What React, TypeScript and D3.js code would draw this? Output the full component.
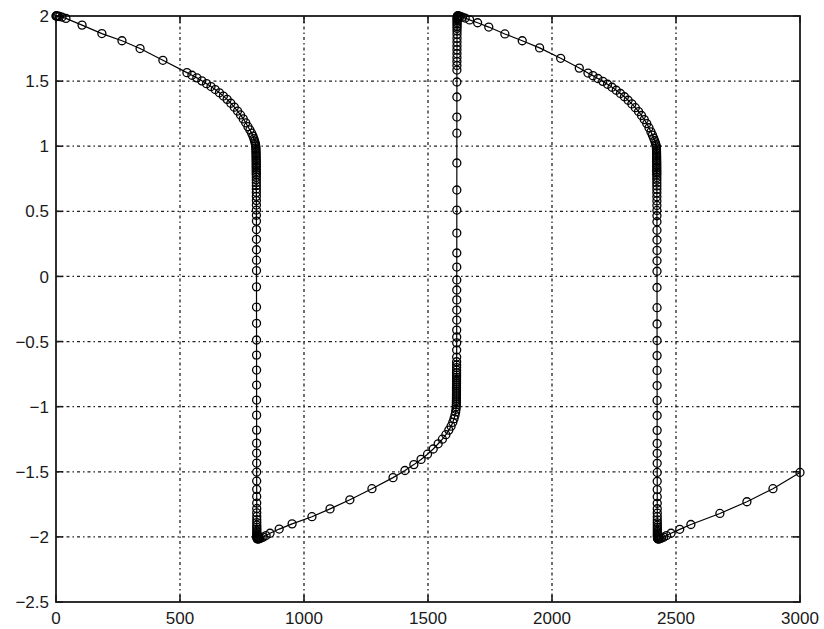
import { useEffect } from 'react'
import * as d3 from 'd3'

// values, [t, y]
const slowDescent1 = [
  [0, 2.0], [1.5, 2.0], [4, 1.999], [8, 1.998], [14, 1.996], [24, 1.992], [40, 1.982],
  [105, 1.93], [185, 1.865], [266, 1.81], [339, 1.75], [431, 1.66], [528, 1.565],
  [548, 1.545], [568, 1.525], [588, 1.502], [607, 1.48], [625, 1.458], [642, 1.435],
  [659, 1.41], [675, 1.385], [690, 1.36], [705, 1.33], [719, 1.3], [732, 1.27],
  [744, 1.24], [755, 1.21], [765, 1.18], [774, 1.15], [782, 1.125], [789, 1.1],
  [794, 1.078], [798, 1.058], [801, 1.04], [803, 1.025], [804.5, 1.012], [805.5, 1.0],
]

const fastDrop1 = [
  [806, 0.988], [806.3, 0.975], [806.5, 0.962], [806.7, 0.949], [806.8, 0.936],
  [806.9, 0.923], [807, 0.91], [807.1, 0.897], [807.2, 0.884], [807.25, 0.871],
  [807.3, 0.858], [807.35, 0.845], [807.4, 0.832], [807.45, 0.819], [807.5, 0.806],
  [807.55, 0.793], [807.6, 0.78], [807.65, 0.762], [807.7, 0.742], [807.75, 0.72],
  [807.8, 0.697], [807.85, 0.672], [807.9, 0.645], [807.95, 0.615], [808, 0.583],
  [808.05, 0.548], [808.1, 0.51], [808.15, 0.47], [808.2, 0.425], [808.25, 0.36],
  [808.3, 0.285], [808.35, 0.205], [808.4, 0.125], [808.45, 0.045], [808.5, -0.08],
  [808.55, -0.235], [808.6, -0.36], [808.65, -0.488], [808.7, -0.604], [808.75, -0.719],
  [808.8, -0.834], [808.85, -0.949], [808.9, -1.065], [808.95, -1.18], [809, -1.28],
  [809.05, -1.356], [809.1, -1.433], [809.15, -1.502], [809.2, -1.571], [809.25, -1.635],
  [809.3, -1.69], [809.35, -1.74], [809.4, -1.782], [809.45, -1.815], [809.5, -1.843],
  [809.55, -1.868], [809.6, -1.89], [809.65, -1.91], [809.7, -1.927], [809.75, -1.942],
  [809.8, -1.956], [809.85, -1.968], [809.9, -1.978], [809.95, -1.987], [810, -1.995],
  [810.2, -2.002], [810.5, -2.008], [811, -2.012], [812, -2.015],
]

const slowRise1 = [
  [814, -2.016], [817, -2.015], [821, -2.013], [827, -2.009], [835, -2.002],
  [847, -1.99], [863, -1.972], [900, -1.94], [952, -1.9], [1032, -1.845],
  [1105, -1.785], [1185, -1.715], [1274, -1.63], [1359, -1.545], [1407, -1.49],
  [1443, -1.445], [1472, -1.405], [1498, -1.365], [1521, -1.325], [1541, -1.285],
  [1558, -1.25], [1572, -1.215], [1584, -1.18], [1593, -1.15], [1600, -1.12],
  [1605, -1.092], [1609, -1.065], [1611.5, -1.04], [1613, -1.02], [1614, -1.0],
]

const fastJump1 = [
  [1614.2, -0.985], [1614.4, -0.97], [1614.5, -0.955], [1614.6, -0.94], [1614.7, -0.925],
  [1614.75, -0.91], [1614.8, -0.895], [1614.85, -0.88], [1614.9, -0.865], [1614.95, -0.85],
  [1615, -0.835], [1615.05, -0.82], [1615.1, -0.805], [1615.15, -0.79], [1615.2, -0.775],
  [1615.25, -0.758], [1615.3, -0.74], [1615.35, -0.72], [1615.4, -0.7], [1615.45, -0.68],
  [1615.5, -0.655], [1615.55, -0.619], [1615.6, -0.565], [1615.65, -0.51], [1615.7, -0.465],
  [1615.75, -0.412], [1615.8, -0.335], [1615.85, -0.258], [1615.9, -0.18], [1615.95, -0.104],
  [1616, -0.027], [1616.05, 0.072], [1616.1, 0.18], [1616.15, 0.333], [1616.2, 0.51],
  [1616.25, 0.664], [1616.3, 0.871], [1616.35, 1.1], [1616.4, 1.224], [1616.45, 1.378],
  [1616.5, 1.493], [1616.55, 1.585], [1616.6, 1.62], [1616.65, 1.65], [1616.7, 1.68],
  [1616.75, 1.71], [1616.8, 1.74], [1616.85, 1.77], [1616.9, 1.8], [1616.95, 1.83],
  [1617, 1.86], [1617.05, 1.885], [1617.1, 1.905], [1617.15, 1.922], [1617.2, 1.937],
  [1617.3, 1.95], [1617.4, 1.962], [1617.5, 1.972], [1617.6, 1.98], [1617.8, 1.987],
  [1618, 1.993], [1618.5, 1.997], [1619, 2.0],
]

const slowDescent2 = [
  [1620, 2.0], [1622, 1.999], [1625, 1.998], [1630, 1.996], [1638, 1.992], [1650, 1.984],
  [1668, 1.97], [1700, 1.948], [1745, 1.915], [1810, 1.862], [1880, 1.81], [1950, 1.755],
  [2035, 1.675], [2110, 1.6], [2145, 1.562], [2165, 1.542], [2185, 1.52], [2205, 1.498],
  [2224, 1.476], [2242, 1.453], [2259, 1.43], [2276, 1.405], [2292, 1.38], [2307, 1.353],
  [2322, 1.325], [2336, 1.296], [2349, 1.266], [2361, 1.236], [2372, 1.205], [2382, 1.174],
  [2391, 1.142], [2399, 1.11], [2405, 1.085], [2410, 1.062], [2414, 1.042], [2417, 1.025],
  [2419, 1.012], [2420.5, 1.0],
]

const fastDrop2 = [
  [2421, 0.987], [2421.3, 0.974], [2421.5, 0.961], [2421.7, 0.948], [2421.8, 0.935],
  [2421.9, 0.922], [2422, 0.909], [2422.1, 0.896], [2422.2, 0.883], [2422.25, 0.87],
  [2422.3, 0.857], [2422.35, 0.844], [2422.4, 0.831], [2422.45, 0.818], [2422.5, 0.805],
  [2422.55, 0.792], [2422.6, 0.779], [2422.65, 0.76], [2422.7, 0.74], [2422.75, 0.718],
  [2422.8, 0.695], [2422.85, 0.67], [2422.9, 0.642], [2422.95, 0.612], [2423, 0.58],
  [2423.05, 0.545], [2423.1, 0.507], [2423.15, 0.466], [2423.2, 0.42], [2423.25, 0.355],
  [2423.3, 0.28], [2423.35, 0.2], [2423.4, 0.12], [2423.45, 0.04], [2423.5, -0.085],
  [2423.55, -0.24], [2423.6, -0.365], [2423.65, -0.492], [2423.7, -0.608], [2423.75, -0.722],
  [2423.8, -0.838], [2423.85, -0.952], [2423.9, -1.068], [2423.95, -1.182], [2424, -1.282],
  [2424.05, -1.358], [2424.1, -1.435], [2424.15, -1.505], [2424.2, -1.573], [2424.25, -1.637],
  [2424.3, -1.692], [2424.35, -1.742], [2424.4, -1.784], [2424.45, -1.817], [2424.5, -1.845],
  [2424.55, -1.87], [2424.6, -1.892], [2424.65, -1.911], [2424.7, -1.928], [2424.75, -1.943],
  [2424.8, -1.957], [2424.85, -1.969], [2424.9, -1.979], [2424.95, -1.988], [2425, -1.996],
  [2425.2, -2.003], [2425.5, -2.009], [2426, -2.013], [2427, -2.015],
]

const slowRise2 = [
  [2429, -2.016], [2432, -2.015], [2436, -2.013], [2442, -2.009], [2450, -2.002],
  [2462, -1.99], [2480, -1.972], [2515, -1.942], [2560, -1.905], [2677, -1.82],
  [2786, -1.73], [2891, -1.63], [3000, -1.505],
]

const xTicks = [0, 500, 1000, 1500, 2000, 2500, 3000]
const xTickLabels = ['0', '500', '1000', '1500', '2000', '2500', '3000']
const yTicks = [-2.5, -2, -1.5, -1, -0.5, 0, 0.5, 1, 1.5, 2]
const yTickLabels = ['\u22122.5', '\u22122', '\u22121.5', '\u22121', '\u22120.5', '0', '0.5', '1', '1.5', '2']

const W = 824
const H = 629
const left = 56, right = 800, top = 16, bottom = 602

export default function App() {
  useEffect(() => {
    document.body.style.margin = '0'
  }, [])

  const x = d3.scaleLinear().domain([0, 3000]).range([left, right])
  const y = d3.scaleLinear().domain([-2.5, 2]).range([bottom, top])

  const pts = [
    ...slowDescent1, ...fastDrop1, ...slowRise1, ...fastJump1,
    ...slowDescent2, ...fastDrop2, ...slowRise2,
  ]
  const line = d3.line<number[]>().x(d => x(d[0])).y(d => y(d[1]))

  const ink = '#1a1a1a'
  const tickLen = 7
  const font = '"Liberation Sans", Arial, Helvetica, sans-serif'

  return (
    <svg width={W} height={H} style={{ display: 'block', background: '#fff' }}>
      {/* grid */}
      {xTicks.slice(1, -1).map(t => (
        <line key={'gx' + t} x1={x(t)} x2={x(t)} y1={top} y2={bottom}
          stroke="#222" strokeWidth={1.3} strokeDasharray="3,3,1.5,3" />
      ))}
      {yTicks.slice(1, -1).map(t => (
        <line key={'gy' + t} x1={left} x2={right} y1={y(t)} y2={y(t)}
          stroke="#222" strokeWidth={1.3} strokeDasharray="3,3,1.5,3" />
      ))}

      {/* ticks, inward on all four sides */}
      {xTicks.map(t => (
        <g key={'tx' + t}>
          <line x1={x(t)} x2={x(t)} y1={bottom} y2={bottom - tickLen} stroke={ink} strokeWidth={1.6} />
          <line x1={x(t)} x2={x(t)} y1={top} y2={top + tickLen} stroke={ink} strokeWidth={1.6} />
        </g>
      ))}
      {yTicks.map(t => (
        <g key={'ty' + t}>
          <line x1={left} x2={left + tickLen} y1={y(t)} y2={y(t)} stroke={ink} strokeWidth={1.6} />
          <line x1={right} x2={right - tickLen} y1={y(t)} y2={y(t)} stroke={ink} strokeWidth={1.6} />
        </g>
      ))}

      {/* box */}
      <rect x={left} y={top} width={right - left} height={bottom - top}
        fill="none" stroke={ink} strokeWidth={1.8} />

      {/* data */}
      <path d={line(pts) || ''} fill="none" stroke="#000" strokeWidth={1.2} />
      {pts.map((d, i) => (
        <circle key={i} cx={x(d[0])} cy={y(d[1])} r={4}
          fill="none" stroke="#000" strokeWidth={1.3} />
      ))}

      {/* tick labels */}
      {xTicks.map((t, i) => (
        <text key={'lx' + t} x={x(t)} y={624} textAnchor="middle"
          fontFamily={font} fontSize={17} fill={ink}>{xTickLabels[i]}</text>
      ))}
      {yTicks.map((t, i) => (
        <text key={'ly' + t} x={49} y={y(t)} dy="0.36em" textAnchor="end"
          fontFamily={font} fontSize={17} fill={ink}>{yTickLabels[i]}</text>
      ))}
    </svg>
  )
}
